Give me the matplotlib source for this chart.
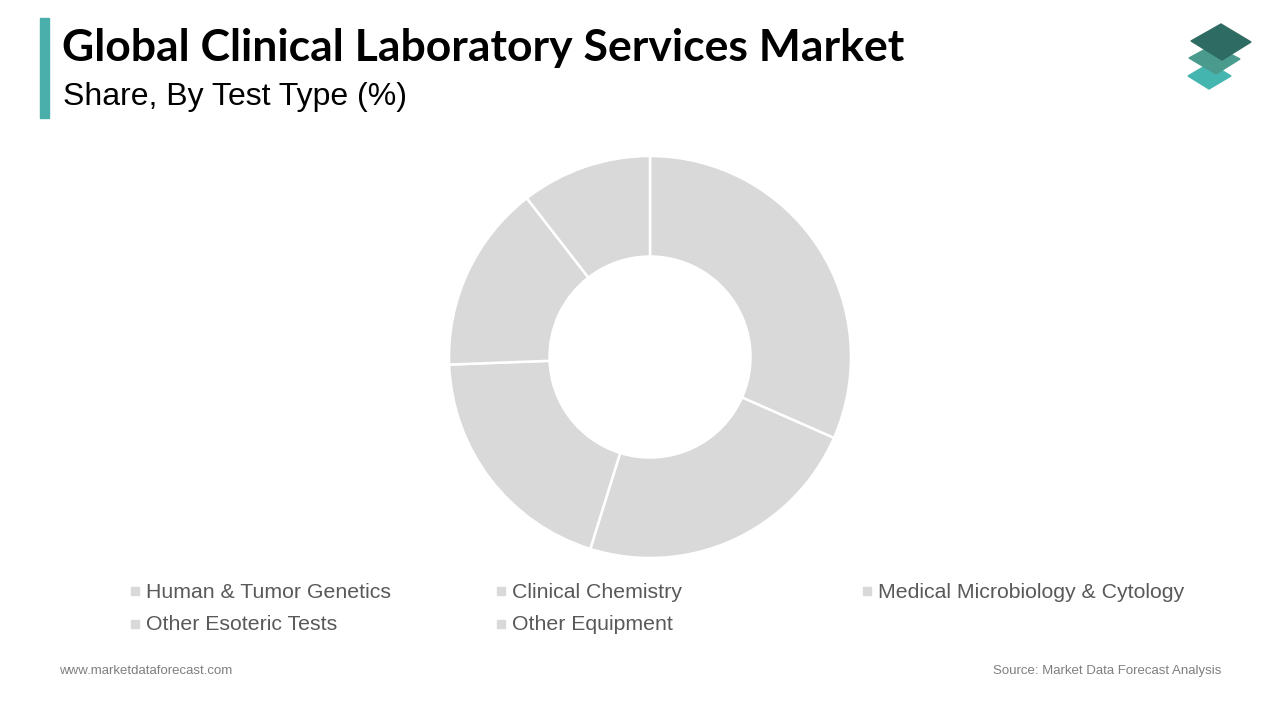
import matplotlib.pyplot as plt
from matplotlib.patches import Polygon, Rectangle

# share by test type (%), read from the donut
categories = ['Human & Tumor Genetics', 'Clinical Chemistry',
              'Medical Microbiology & Cytology', 'Other Esoteric Tests',
              'Other Equipment']
shares = [31.6, 23.2, 19.6, 15.1, 10.5]

title = 'Global Clinical Laboratory Services Market'
subtitle = 'Share, By Test Type (%)'
site = 'www.marketdataforecast.com'
source = 'Source: Market Data Forecast Analysis'

W, H = 1280, 720
fig = plt.figure(figsize=(12.8, 7.2), dpi=100)
fig.patch.set_facecolor('white')

# donut
cx, cy, r = 650, 357, 203
ax = fig.add_axes([(cx - r) / W, (H - cy - r) / H, 2 * r / W, 2 * r / H])
ax.pie(shares, colors=['#d9d9d9'] * len(shares), startangle=90, counterclock=False,
       radius=1.0, wedgeprops=dict(width=0.5, edgecolor='white', linewidth=1.8))
ax.set_xlim(-1.01, 1.01)
ax.set_ylim(-1.01, 1.01)
ax.set_aspect('equal')
ax.axis('off')

# header
fig.patches.append(Rectangle((40 / W, 1 - 118 / H), 9 / W, 100 / H,
                             transform=fig.transFigure, color='#4aaeaa'))
fig.text(62 / W, 1 - 61 / H, title, fontsize=32, fontweight='bold',
         family='Lato', color='black', va='baseline', ha='left')
fig.text(63 / W, 1 - 97 / H, subtitle, fontsize=23, family='Liberation Sans',
         color='black', va='center', ha='left')

# logo: three stacked diamonds
logo = [
    ([(1188, 76), (1210, 63), (1231, 76), (1209, 89)], '#45b5b0'),
    ([(1189, 58), (1213, 45), (1240, 59), (1216, 74)], '#4a9a8e'),
    ([(1191, 41), (1221, 24), (1251, 42), (1222, 60)], '#2e6b62'),
]
for pts, col in logo:
    fig.patches.append(Polygon([(x / W, 1 - y / H) for x, y in pts], closed=True,
                               transform=fig.transFigure, color=col))

# legend, row-wise in three columns
col_x = [131, 497, 863]
row_y = [592, 625]
for i, name in enumerate(categories):
    x = col_x[i % 3]
    y = row_y[i // 3]
    fig.patches.append(Rectangle((x / W, 1 - (y + 3) / H), 8 / W, 8 / H,
                                 transform=fig.transFigure, color='#d9d9d9'))
    fig.text((x + 15) / W, 1 - y / H, name, fontsize=15.3, family='Liberation Sans',
             color='#595959', va='center', ha='left')

# footer
fig.text(59 / W, 1 - 671 / H, site, fontsize=9.5, family='Liberation Sans',
         color='#7f7f7f', va='center', ha='left')
fig.text(1221 / W, 1 - 671 / H, source, fontsize=9.5, family='Liberation Sans',
         color='#7f7f7f', va='center', ha='right')

fig.savefig('out.png', dpi=100, facecolor='white')
